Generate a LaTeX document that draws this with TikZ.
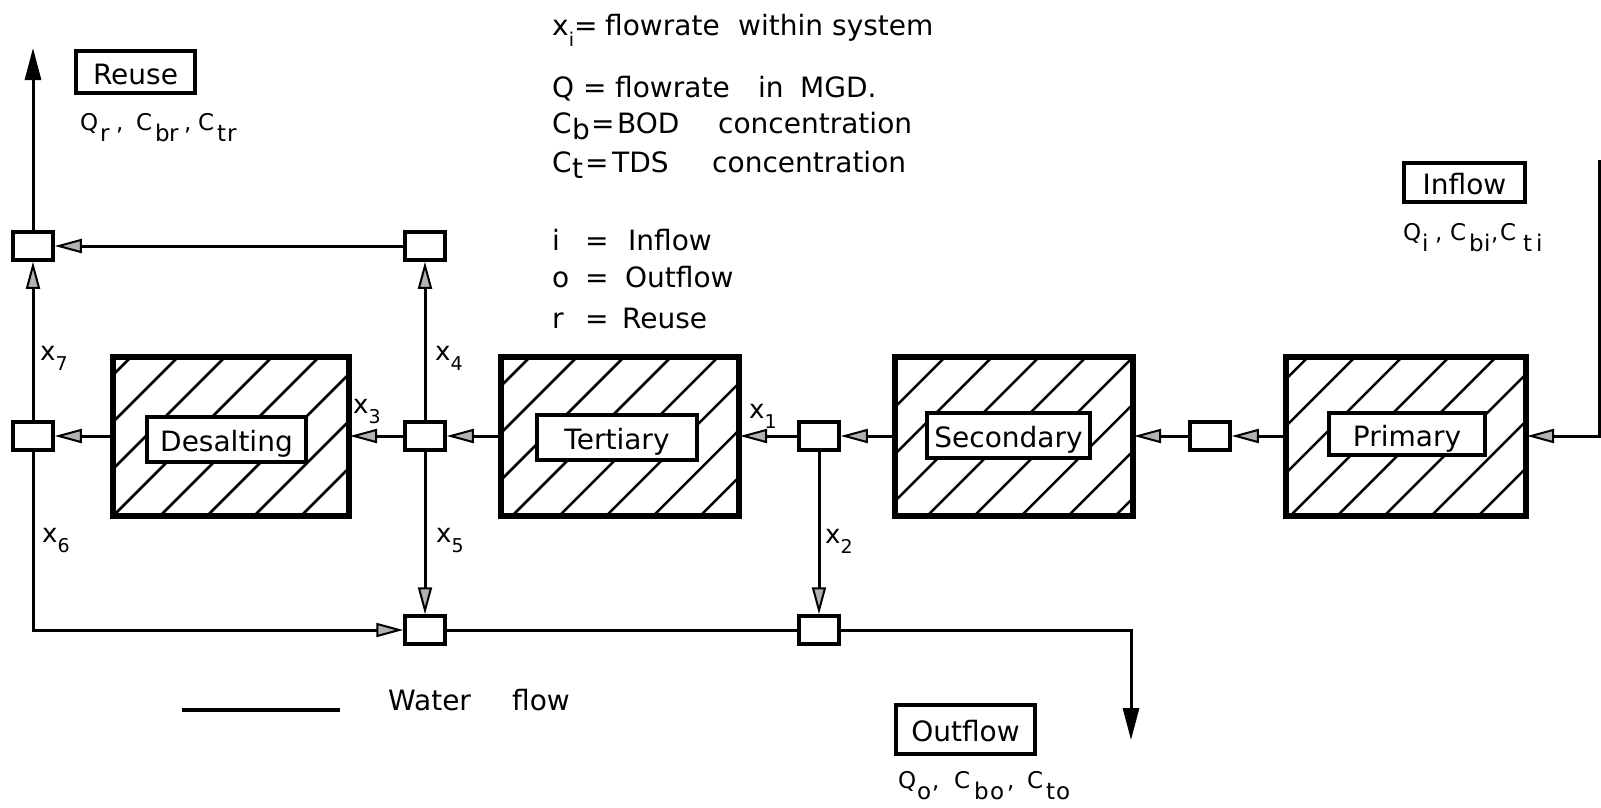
\documentclass[tikz,border=0pt]{standalone}
\usepackage{fontspec}
\setmainfont{DejaVu Sans}
\usetikzlibrary{arrows.meta}
\newcommand\lo[1]{\raisebox{-0.5em}{#1}}
\newcommand\lgsub[1]{\raisebox{-0.22em}{#1}}
\newcommand\losm[1]{\raisebox{-0.42em}{\fontsize{19}{19}\selectfont #1}}
\newcommand\mkbx[2]{\makebox[#1pt][l]{#2}}
\newcommand\myhatch[5]{%
  \begin{scope}
    \clip (#1,#2) rectangle (#3,#4);
    \foreach \k in {0,...,11}{\draw[line width=2.5pt] ({#5+47*\k-#4},#4) -- ({#5+47*\k-#2},#2);}
  \end{scope}}
\begin{document}
\begin{tikzpicture}[x=1pt,y=-1pt,
  flow/.style={line width=3pt},
  arr/.style={flow,-{Triangle[length=27pt,width=14pt,fill=gray!60,line width=2pt]}},
  darr/.style={flow,-{Triangle[length=32pt,width=16pt]}},
  junc/.style={draw,line width=3.5pt,fill=white,minimum width=40pt,minimum height=28pt,inner sep=0pt},
  unitbox/.style={draw,line width=4pt,minimum height=157pt,inner sep=0pt},
  lbl/.style={draw,line width=3.5pt,fill=white,inner sep=0pt,text height=24pt,text depth=0pt,font=\fontsize{28}{30}\selectfont},
  txt/.style={inner sep=0pt,anchor=base west,font=\fontsize{28}{30}\selectfont},
  ptxt/.style={inner sep=0pt,anchor=base west,font=\fontsize{23}{26}\selectfont},
  xl/.style={inner sep=0pt,anchor=base west,font=\fontsize{26}{28}\selectfont},
]
\fill[white] (0,0) rectangle (1601,807);
\useasboundingbox (0,0) rectangle (1601,807);

% process units
\node[unitbox,minimum width=234pt] (des) at (231,436) {};
\node[unitbox,minimum width=236pt] (ter) at (620,436) {};
\node[unitbox,minimum width=236pt] (sec) at (1014,436) {};
\node[unitbox,minimum width=238pt] (pri) at (1406,436) {};
\myhatch{114}{357.5}{348}{514.5}{441}
\myhatch{502}{357.5}{738}{514.5}{840}
\myhatch{896}{357.5}{1132}{514.5}{1208}
\myhatch{1287}{357.5}{1525}{514.5}{1618}
\draw[line width=4pt] (des.south west) rectangle (des.north east);
\draw[line width=4pt] (ter.south west) rectangle (ter.north east);
\draw[line width=4pt] (sec.south west) rectangle (sec.north east);
\draw[line width=4pt] (pri.south west) rectangle (pri.north east);
\node[lbl,minimum width=159pt,minimum height=45pt] (desL) at (226.5,439.5) {Desalting};
\node[lbl,minimum width=160pt,minimum height=45pt] (terL) at (617,437.5) {Tertiary};
\node[lbl,minimum width=163pt,minimum height=45pt] (secL) at (1008.5,435.5) {Secondary};
\node[lbl,minimum width=156pt,minimum height=42pt] (priL) at (1407,434) {Primary};

% junctions
\node[junc] (TL) at (33,246) {};
\node[junc] (TR) at (425,246) {};
\node[junc] (ML) at (33,436) {};
\node[junc] (MM) at (425,436) {};
\node[junc] (B1) at (425,630) {};
\node[junc] (J1) at (819,436) {};
\node[junc] (B2) at (819,630) {};
\node[junc] (JS) at (1210,436) {};

% free ends and corners
\coordinate (reuseEnd) at (33,48);
\coordinate (inTop) at (1599,160);
\coordinate (inCorner) at (1599,436);
\coordinate (blCorner) at (33,630);
\coordinate (outCorner) at (1131,630);
\coordinate (outEnd) at (1131,740);
\coordinate (legA) at (182,710);
\coordinate (legB) at (340,710);

% connectors
\draw[arr] (inTop) -- (inCorner) -- (pri);
\draw[arr] (pri) -- (JS);
\draw[arr] (JS) -- (sec);
\draw[arr] (sec) -- (J1);
\draw[arr] (J1) -- (ter);
\draw[arr] (ter) -- (MM);
\draw[arr] (MM) -- (des);
\draw[arr] (des) -- (ML);
\draw[arr] (ML) -- (TL);
\draw[darr] (TL) -- (reuseEnd);
\draw[arr] (TR) -- (TL);
\draw[arr] (MM) -- (TR);
\draw[arr] (MM) -- (B1);
\draw[arr] (ML) -- (blCorner) -- (B1);
\draw[arr] (J1) -- (B2);
\draw[flow] (B1) -- (B2);
\draw[darr] (B2) -- (outCorner) -- (outEnd);
\draw[line width=3.5pt] (legA) -- (legB);

% flow labels
\node[xl] (x7) at (40,360) {x\losm{7}};
\node[xl] (x4) at (435,360) {x\losm{4}};
\node[xl] (x3) at (353,413) {x\losm{3}};
\node[xl] (x6) at (42,542) {x\losm{6}};
\node[xl] (x5) at (436,542) {x\losm{5}};
\node[xl] (x1) at (749,418) {x\losm{1}};
\node[xl] (x2) at (825,543) {x\losm{2}};

% terminal boxes
\node[lbl,minimum width=119pt,minimum height=42pt] (reuse) at (135.5,72) {Reuse};
\node[ptxt] (reuseP) at (80,130) {\mkbx{20}{Q}\mkbx{16}{\lo{r}}\mkbx{20}{,}\mkbx{19}{C}\mkbx{14}{\lo{b}}\mkbx{15}{\lo{r}}\mkbx{14}{,}\mkbx{19}{C}\mkbx{10}{\lo{t}}\lo{r}};
\node[lbl,minimum width=121pt,minimum height=39pt] (inflow) at (1464.5,182.5) {Inflow};
\node[ptxt] (inflowP) at (1403,240) {\mkbx{19}{Q}\mkbx{13}{\lo{i}}\mkbx{15}{,}\mkbx{19}{C}\mkbx{15}{\lo{b}}\mkbx{7}{\lo{i}}\mkbx{9}{,}\mkbx{23}{C}\mkbx{13}{\lo{t}}\lo{i}};
\node[lbl,minimum width=139pt,minimum height=49pt] (outflow) at (965.5,729.5) {Outflow};
\node[ptxt] (outflowP) at (898,788) {\mkbx{19}{Q}\mkbx{15}{\lo{o}}\mkbx{22}{,}\mkbx{20}{C}\mkbx{16}{\lo{b}}\mkbx{17}{\lo{o}}\mkbx{20}{,}\mkbx{19}{C}\mkbx{10}{\lo{t}}\lo{o}};

% legend
\node[txt] (leg1) at (552,35) {\mkbx{53}{x\losm{i}=}\mkbx{133}{flowrate}\mkbx{94}{within}system};
\node[txt] (leg2) at (552,97) {\mkbx{63}{Q =}\mkbx{143}{flowrate}\mkbx{42}{in}MGD.};
\node[txt] (leg3) at (552,133) {\mkbx{20}{C}\mkbx{19}{\lgsub{b}}\mkbx{26}{=}\mkbx{101}{BOD}concentration};
\node[txt] (leg4) at (552,172) {\mkbx{20}{C}\mkbx{13}{\lgsub{t}}\mkbx{27}{=}\mkbx{100}{TDS}concentration};
\node[txt] (leg5) at (552,250) {\mkbx{33}{i}\mkbx{43}{=}Inflow};
\node[txt] (leg6) at (552,287) {\mkbx{33}{o}\mkbx{40}{=}Outflow};
\node[txt] (leg7) at (552,328) {\mkbx{33}{r}\mkbx{37}{=}Reuse};
\node[txt] (legW) at (388,710) {\mkbx{124}{Water}flow};
\end{tikzpicture}
\end{document}
